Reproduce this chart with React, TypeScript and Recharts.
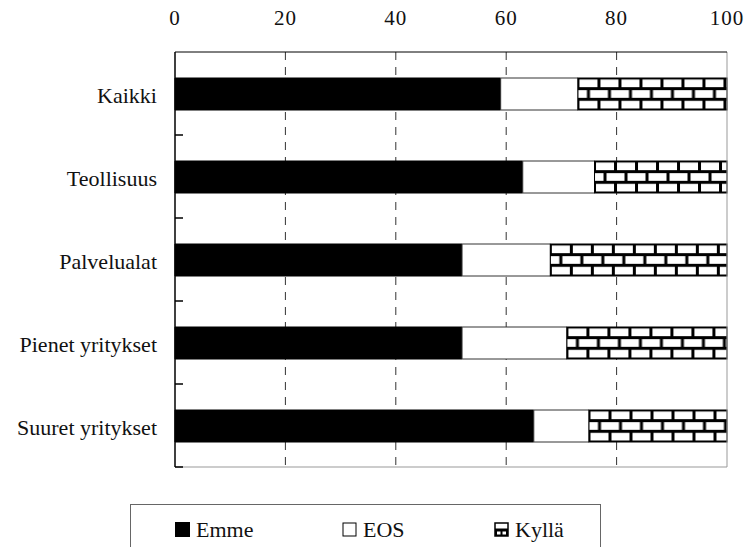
import { BarChart, Bar, XAxis, YAxis, CartesianGrid, ReferenceLine } from "recharts";

const categories = ["Kaikki", "Teollisuus", "Palvelualat", "Pienet yritykset", "Suuret yritykset"];
const emme = [59, 63, 52, 52, 65];
const eos = [14, 13, 16, 19, 10];
const kylla = [27, 24, 32, 29, 25];
const xTicks = [0, 20, 40, 60, 80, 100];
const gridValues = [20, 40, 60, 80];

const data = categories.map((name, i) => ({
  name,
  Emme: emme[i],
  EOS: eos[i],
  Kylla: kylla[i],
}));

const FONT = '"Liberation Serif", "Times New Roman", serif';
const PLOT_TOP = 52;
const PLOT_H = 415;
const BAND = PLOT_H / categories.length;

const BrickBar = (props: any) => {
  const { x, y, width, height, index } = props;
  const id = `brick-${index}`;
  const w = 21;
  const h = 21.33;
  return (
    <g>
      <defs>
        <pattern id={id} patternUnits="userSpaceOnUse" x={x - 1.5} y={y - 1.5} width={w} height={h}>
          <rect width={w} height={h} fill="#fff" />
          <rect x={0} y={0} width={w} height={3} fill="#000" />
          <rect x={0} y={h / 2} width={w} height={3} fill="#000" />
          <rect x={0} y={0} width={3} height={h / 2} fill="#000" />
          <rect x={w / 2} y={h / 2} width={3} height={h / 2} fill="#000" />
        </pattern>
      </defs>
      <rect x={x} y={y} width={width} height={height} fill={`url(#${id})`} stroke="#000" strokeWidth={1} />
    </g>
  );
};

const CategoryTick = (props: any) => {
  const { x, y, payload } = props;
  const axisX = x + 13;
  return (
    <g>
      <text x={axisX - 18} y={y + 9.5} textAnchor="end" style={{ fontFamily: FONT }} fontSize={22} fill="#111">
        {payload.value}
      </text>
      <line x1={axisX} x2={axisX + 8} y1={y + BAND / 2} y2={y + BAND / 2} stroke="#000" strokeWidth={1.5} />
    </g>
  );
};

const ValueTick = (props: any) => {
  const { x, y, payload } = props;
  return (
    <text x={x} y={y} textAnchor="middle" style={{ fontFamily: FONT }} fontSize={21} letterSpacing={1} fill="#111">
      {payload.value}
    </text>
  );
};

const Swatch = ({ kind }: { kind: string }) => {
  if (kind === "brick") {
    return (
      <svg width={15} height={15}>
        <rect x={1} y={1} width={13} height={13} fill="#fff" stroke="#000" strokeWidth={1.5} />
        <rect x={1} y={6.5} width={13} height={7.5} fill="#000" />
        <rect x={3} y={9.5} width={3.5} height={3} fill="#fff" />
        <rect x={8.5} y={9.5} width={3.5} height={3} fill="#fff" />
      </svg>
    );
  }
  const black = kind === "black";
  return (
    <svg width={15} height={15}>
      <rect
        x={black ? 0.5 : 1}
        y={black ? 0.5 : 1}
        width={black ? 14 : 13}
        height={black ? 14 : 13}
        fill={black ? "#000" : "#fff"}
        stroke="#000"
        strokeWidth={1}
      />
    </svg>
  );
};

const legendItems = [
  { label: "Emme", kind: "black", left: 44 },
  { label: "EOS", kind: "white", left: 211 },
  { label: "Kyllä", kind: "brick", left: 363 },
];

export default function App() {
  return (
    <div style={{ position: "absolute", left: 0, top: 0, width: 746, height: 547, background: "#fff", overflow: "hidden", fontFamily: FONT }}>
      <BarChart
        width={746}
        height={547}
        data={data}
        layout="vertical"
        margin={{ top: 0, right: 19, bottom: 79, left: 0 }}
        barSize={32}
      >
        <CartesianGrid
          horizontal={false}
          vertical={true}
          verticalValues={gridValues}
          stroke="#333"
          strokeDasharray="8 7"
        />
        <XAxis
          type="number"
          orientation="top"
          domain={[0, 100]}
          ticks={xTicks}
          height={PLOT_TOP}
          tickLine={false}
          tickSize={0}
          tickMargin={27}
          axisLine={{ stroke: "#000", strokeWidth: 1 }}
          tick={<ValueTick />}
          interval={0}
        />
        <XAxis
          xAxisId="bottom"
          type="number"
          orientation="bottom"
          domain={[0, 100]}
          height={1}
          tick={false}
          tickLine={false}
          axisLine={{ stroke: "#999", strokeWidth: 1 }}
        />
        <YAxis
          type="category"
          dataKey="name"
          width={175}
          tickLine={false}
          tickSize={0}
          tickMargin={13}
          axisLine={{ stroke: "#000", strokeWidth: 1.5 }}
          tick={<CategoryTick />}
          interval={0}
        />
        <ReferenceLine x={100} stroke="#999" strokeWidth={1} />
        <Bar dataKey="Emme" stackId="a" fill="#000" stroke="#000" strokeWidth={1} isAnimationActive={false} />
        <Bar dataKey="EOS" stackId="a" fill="#fff" stroke="#333" strokeWidth={1} isAnimationActive={false} />
        <Bar dataKey="Kylla" stackId="a" shape={<BrickBar />} isAnimationActive={false} />
      </BarChart>
      <div
        style={{
          position: "absolute",
          left: 130,
          top: 504,
          width: 471,
          height: 60,
          border: "1px solid #666",
          boxSizing: "border-box",
          fontSize: 22,
          color: "#111",
        }}
      >
        {legendItems.map((item) => (
          <div
            key={item.label}
            style={{ position: "absolute", left: item.left, top: 14, display: "flex", alignItems: "flex-end", gap: 6, lineHeight: "18px" }}
          >
            <Swatch kind={item.kind} />
            <span style={{ position: "relative", top: 2 }}>{item.label}</span>
          </div>
        ))}
      </div>
    </div>
  );
}
